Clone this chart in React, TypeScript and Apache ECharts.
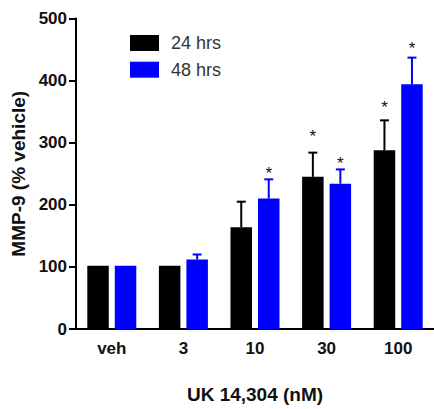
import React, { useEffect, useRef } from "react";
import * as echarts from "echarts";

const categories = ["veh", "3", "10", "30", "100"];
const mean24 = [102, 102, 164, 245, 288];
const sem24 = [0, 0, 41, 39, 48];
const mean48 = [102, 112, 210, 234, 394];
const sem48 = [0, 8, 31, 23, 43];
// significance star positions (data units), null = no star
const star24: (number | null)[] = [null, null, null, 315, 363];
const star48: (number | null)[] = [null, null, 256, 272, 458];
const seriesNames = ["24 hrs", "48 hrs"];
const colors = ["#000000", "#0000ff"];

const FONT = "'Liberation Sans', Arial, sans-serif";
const BAR_W = 21.5;
const GAP_PX = 6;

function errSeries(mean: number[], sem: number[], stars: (number | null)[], color: string, sign: number) {
  return {
    type: "custom",
    z: 5,
    silent: true,
    data: mean.map((m, i) => [i, m, sem[i], stars[i] == null ? -1 : stars[i]]),
    renderItem: (params: any, api: any) => {
      const off = (sign * (BAR_W + GAP_PX)) / 2;
      const base = api.coord([api.value(0), api.value(1)]);
      const top = api.coord([api.value(0), api.value(1) + api.value(2)]);
      const x = base[0] + off;
      const children: any[] = [];
      if (api.value(2) > 0) {
        children.push({
          type: "line",
          shape: { x1: x, y1: base[1], x2: x, y2: top[1] },
          style: { stroke: color, lineWidth: 2 },
        });
        children.push({
          type: "line",
          shape: { x1: x - 4.5, y1: top[1], x2: x + 4.5, y2: top[1] },
          style: { stroke: color, lineWidth: 2 },
        });
      }
      const sv = api.value(3);
      if (sv > 0) {
        const sp = api.coord([api.value(0), sv]);
        children.push({
          type: "text",
          x: x,
          y: sp[1] + 3.5,
          style: {
            text: "*",
            fill: "#111",
            font: `17px ${FONT}`,
            align: "center",
            verticalAlign: "middle",
          },
        });
      }
      return { type: "group", children };
    },
  };
}

export default function App() {
  const ref = useRef<HTMLDivElement>(null);
  useEffect(() => {
    if (!ref.current) return;
    const chart = echarts.init(ref.current, undefined, { renderer: "svg" });
    chart.setOption({
      animation: false,
      backgroundColor: "#ffffff",
      grid: { left: 76, top: 18.5, width: 360, bottom: 77, containLabel: false },
      legend: {
        orient: "vertical",
        left: 130,
        top: 34,
        padding: 0,
        icon: "rect",
        itemWidth: 29,
        itemHeight: 16,
        itemGap: 8.7,
        data: seriesNames,
        textStyle: { fontFamily: FONT, fontSize: 18, color: "#333", padding: [0, 0, 0, 7] },
      },
      xAxis: {
        type: "category",
        data: categories,
        name: "UK 14,304 (nM)",
        nameLocation: "middle",
        nameGap: 56,
        nameTextStyle: { fontFamily: FONT, fontSize: 19, fontWeight: "bold", color: "#111" },
        axisLine: { lineStyle: { color: "#000", width: 2 } },
        axisTick: { alignWithLabel: true, length: 6, lineStyle: { color: "#000", width: 2 } },
        axisLabel: { fontFamily: FONT, fontSize: 17, fontWeight: "bold", color: "#111", margin: 11 },
      },
      yAxis: {
        type: "value",
        min: 0,
        max: 500,
        interval: 100,
        name: "MMP-9 (% vehicle)",
        nameLocation: "middle",
        nameGap: 44,
        nameTextStyle: { fontFamily: FONT, fontSize: 19, fontWeight: "bold", color: "#111" },
        splitLine: { show: false },
        axisLine: { show: true, lineStyle: { color: "#000", width: 2 } },
        axisTick: { show: true, length: 7, lineStyle: { color: "#000", width: 2 } },
        axisLabel: { fontFamily: FONT, fontSize: 17, fontWeight: "bold", color: "#111", margin: 9 },
      },
      series: [
        {
          name: seriesNames[0],
          type: "bar",
          data: mean24,
          barWidth: BAR_W,
          barGap: `${(GAP_PX / BAR_W) * 100}%`,
          itemStyle: { color: colors[0] },
        },
        {
          name: seriesNames[1],
          type: "bar",
          data: mean48,
          barWidth: BAR_W,
          barGap: `${(GAP_PX / BAR_W) * 100}%`,
          itemStyle: { color: colors[1] },
        },
        errSeries(mean24, sem24, star24, colors[0], -1),
        errSeries(mean48, sem48, star48, colors[1], 1),
      ],
    });
    return () => chart.dispose();
  }, []);
  return (
    <div
      ref={ref}
      style={{ position: "fixed", left: 0, top: 0, width: 434, height: 409 }}
    />
  );
}
